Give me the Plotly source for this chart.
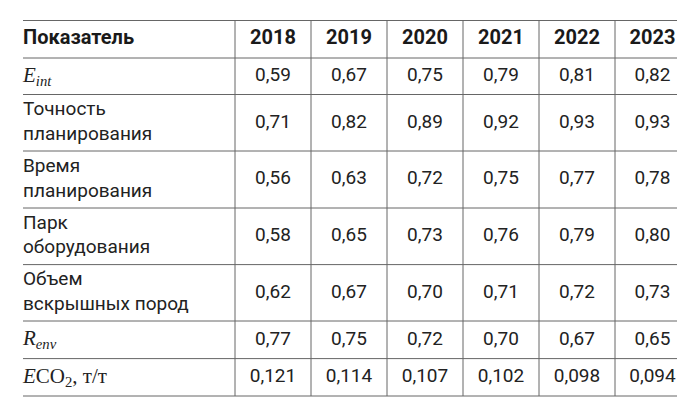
import plotly.graph_objects as go

years = ["2018", "2019", "2020", "2021", "2022", "2023"]
indicators = [
    "<i>E<sub>int</sub></i>",
    "Точность<br>планирования",
    "Время<br>планирования",
    "Парк<br>оборудования",
    "Объем<br>вскрышных пород",
    "<i>R<sub>env</sub></i>",
    "<i>E</i>CO<sub>2</sub>, т/т",
]
serif_rows = [0, 5, 6]
values = [
    ["0,59", "0,71", "0,56", "0,58", "0,62", "0,77", "0,121"],
    ["0,67", "0,82", "0,63", "0,65", "0,67", "0,75", "0,114"],
    ["0,75", "0,89", "0,72", "0,73", "0,70", "0,72", "0,107"],
    ["0,79", "0,92", "0,75", "0,76", "0,71", "0,70", "0,102"],
    ["0,81", "0,93", "0,77", "0,79", "0,72", "0,67", "0,098"],
    ["0,82", "0,93", "0,78", "0,80", "0,73", "0,65", "0,094"],
]

# layout (pixel grid)
row_lines = [12.5, 50, 86.5, 143, 200, 256.6, 313, 350.6, 388]
col_lines = [227, 303, 379, 455, 531, 607]
left, right = 15, 682
col_centers = [(a + b) / 2 for a, b in zip(col_lines, col_lines[1:] + [right])]
row_centers = [(a + b) / 2 for a, b in zip(row_lines[:-1], row_lines[1:])]
head_y, body_y = row_centers[0], row_centers[1:]

sans = "Roboto"
fig = go.Figure()
# header
fig.add_trace(go.Scatter(x=[left], y=[head_y], mode="text", text=["<b>Показатель</b>"],
                         textposition="middle right",
                         textfont=dict(family=sans, size=20, color="#1a1a1a")))
fig.add_trace(go.Scatter(x=col_centers, y=[head_y] * 6, mode="text",
                         text=[f"<b>{y}</b>" for y in years], textposition="middle center",
                         textfont=dict(family=sans, size=20, color="#1a1a1a")))
# first column
for i, lab in enumerate(indicators):
    serif = i in serif_rows
    fig.add_trace(go.Scatter(x=[left], y=[body_y[i]], mode="text", text=[lab],
                             textposition="middle right",
                             textfont=dict(family="Liberation Serif" if serif else sans,
                                           size=21 if serif else 19, color="#222")))
# values
for j, col in enumerate(values):
    fig.add_trace(go.Scatter(x=[col_centers[j]] * len(col), y=body_y, mode="text", text=col,
                             textposition="middle center",
                             textfont=dict(family=sans, size=19, color="#222")))

shapes = []
for y in row_lines:
    shapes.append(dict(type="line", x0=left, x1=right, y0=y, y1=y,
                       line=dict(color="#666", width=1)))
for x in col_lines:
    shapes.append(dict(type="line", x0=x, x1=x, y0=row_lines[0], y1=row_lines[-1],
                       line=dict(color="#666", width=1)))

fig.update_layout(width=685, height=403, margin=dict(l=0, r=0, t=0, b=0),
                  paper_bgcolor="white", plot_bgcolor="white", showlegend=False,
                  shapes=shapes,
                  xaxis=dict(range=[0, 685], visible=False, fixedrange=True),
                  yaxis=dict(range=[403, 0], visible=False, fixedrange=True))
fig.write_html("out.html")
